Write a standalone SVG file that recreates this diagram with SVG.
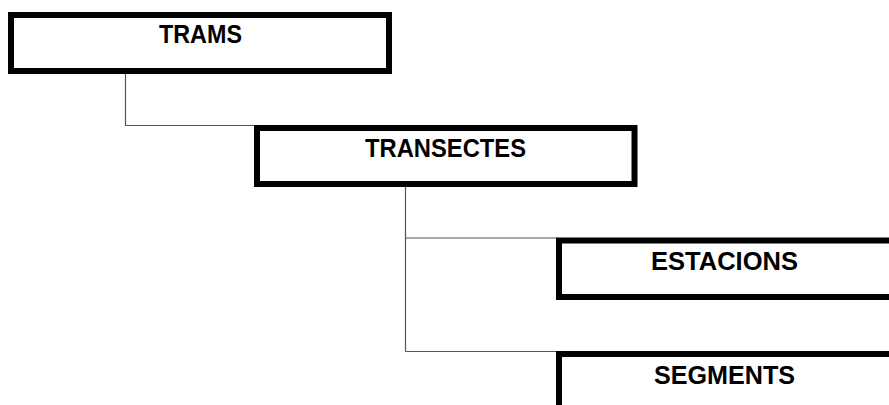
<svg xmlns="http://www.w3.org/2000/svg" width="889" height="405" viewBox="0 0 889 405">
<style>
.box{fill:#fff;stroke:#000;stroke-width:6}
.lbl{font-family:"Liberation Sans",Arial,sans-serif;font-weight:bold;font-size:26px;fill:#000;text-anchor:middle}
.con{fill:none;stroke:#555;stroke-width:1.2}
</style>
<rect width="889" height="405" fill="#fff"/>
<g id="connectors">
<path class="con" d="M125.5 71 V125.5 H255"/>
<path class="con" d="M405.5 184 V351.5"/>
<path class="con" d="M405.5 238 H557"/>
<path class="con" d="M405.5 351.5 H557"/>
</g>
<g id="trams">
<rect class="box" x="11" y="15" width="378" height="56"/>
<text class="lbl" x="200.5" y="43" textLength="83" lengthAdjust="spacingAndGlyphs">TRAMS</text>
</g>
<g id="transectes">
<rect class="box" x="257" y="128" width="377.5" height="56"/>
<text class="lbl" x="445.5" y="157" textLength="161" lengthAdjust="spacingAndGlyphs">TRANSECTES</text>
</g>
<g id="estacions">
<rect class="box" x="559" y="240.5" width="340" height="56.5"/>
<text class="lbl" x="724.5" y="270" textLength="147" lengthAdjust="spacingAndGlyphs">ESTACIONS</text>
</g>
<g id="segments">
<rect class="box" x="559" y="354" width="340" height="60"/>
<text class="lbl" x="724.5" y="383.5" textLength="141" lengthAdjust="spacingAndGlyphs">SEGMENTS</text>
</g>
</svg>
